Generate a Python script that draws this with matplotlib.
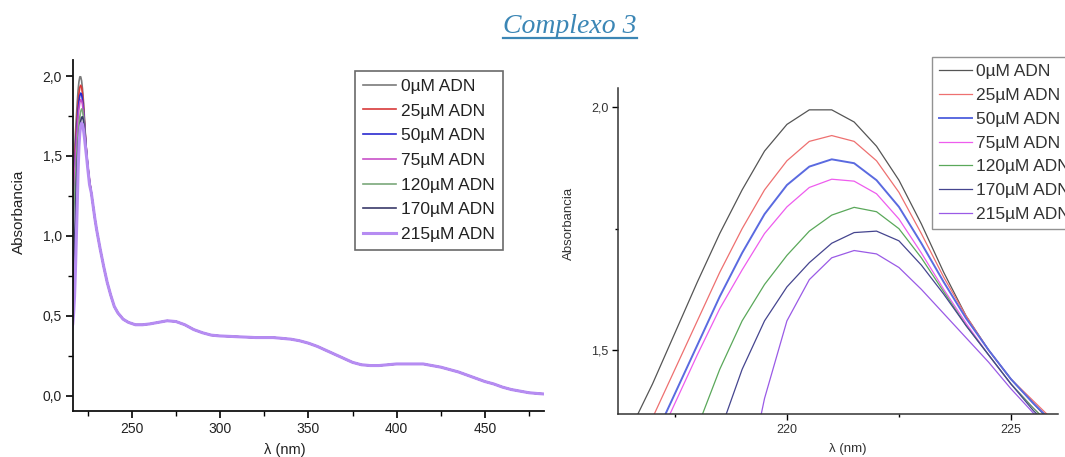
import matplotlib
matplotlib.use("Agg")
import matplotlib.pyplot as plt
from matplotlib.ticker import FuncFormatter, MultipleLocator
from matplotlib.lines import Line2D

plt.rcParams['font.family'] = ['Liberation Sans', 'DejaVu Sans']

labels = ['0\u00b5M ADN', '25\u00b5M ADN', '50\u00b5M ADN', '75\u00b5M ADN',
          '120\u00b5M ADN', '170\u00b5M ADN', '215\u00b5M ADN']

# wavelengths around the main band (nm)
peak_wl = [216.0, 216.5, 217.0, 217.5, 218.0, 218.5, 219.0, 219.5, 220.0, 220.5,
           221.0, 221.5, 222.0, 222.5, 223.0, 223.5, 224.0, 224.5, 225.0, 225.5, 226.0]

abs_0 = [1.22, 1.335, 1.43, 1.535, 1.64, 1.74, 1.83, 1.91, 1.965, 1.995,
         1.995, 1.97, 1.92, 1.85, 1.76, 1.66, 1.57, 1.50, 1.44, 1.39, 1.34]
abs_25 = [1.18, 1.27, 1.36, 1.46, 1.56, 1.66, 1.75, 1.83, 1.89, 1.93,
          1.942, 1.93, 1.89, 1.825, 1.74, 1.65, 1.57, 1.50, 1.44, 1.395, 1.35]
abs_50 = [1.10, 1.20, 1.31, 1.41, 1.51, 1.61, 1.70, 1.78, 1.84, 1.878,
          1.893, 1.885, 1.85, 1.795, 1.72, 1.64, 1.565, 1.50, 1.44, 1.39, 1.345]
abs_75 = [1.05, 1.17, 1.29, 1.39, 1.49, 1.585, 1.665, 1.74, 1.795, 1.835,
          1.852, 1.848, 1.822, 1.77, 1.70, 1.625, 1.555, 1.49, 1.43, 1.38, 1.335]
abs_120 = [0.95, 1.05, 1.15, 1.25, 1.34, 1.46, 1.56, 1.635, 1.695, 1.745,
           1.778, 1.794, 1.785, 1.75, 1.69, 1.62, 1.55, 1.49, 1.43, 1.38, 1.335]
abs_170 = [0.60, 0.68, 0.80, 0.95, 1.15, 1.33, 1.46, 1.56, 1.63, 1.68,
           1.72, 1.742, 1.745, 1.725, 1.675, 1.615, 1.55, 1.49, 1.43, 1.375, 1.33]
abs_215 = [0.42, 0.45, 0.52, 0.62, 0.78, 0.98, 1.18, 1.40, 1.56, 1.645,
           1.69, 1.705, 1.698, 1.67, 1.625, 1.575, 1.525, 1.475, 1.42, 1.37, 1.32]

# rest of the spectrum, the same for all concentrations
tail_wl = [227, 228, 229, 230, 232, 234, 236, 238, 240, 242, 245, 248, 252, 256, 260,
           265, 270, 275, 280, 285, 290, 295, 300, 310, 320, 330, 340, 345, 350, 355,
           360, 365, 370, 375, 380, 385, 390, 395, 400, 410, 415, 420, 425, 430, 435,
           440, 445, 450, 455, 460, 465, 470, 475, 480, 484]
tail_abs = [1.27, 1.19, 1.11, 1.04, 0.92, 0.81, 0.71, 0.63, 0.56, 0.52, 0.48, 0.46, 0.445,
            0.445, 0.45, 0.46, 0.47, 0.465, 0.445, 0.415, 0.395, 0.38, 0.375, 0.37, 0.365,
            0.365, 0.355, 0.345, 0.33, 0.31, 0.285, 0.26, 0.235, 0.21, 0.195, 0.19, 0.19,
            0.195, 0.20, 0.20, 0.20, 0.19, 0.18, 0.165, 0.15, 0.13, 0.11, 0.09, 0.075,
            0.055, 0.04, 0.03, 0.02, 0.015, 0.012]

series = [abs_0, abs_25, abs_50, abs_75, abs_120, abs_170, abs_215]

left_colors = ['#7a7a7a', '#d83a3a', '#2a2ad0', '#c850c8', '#7aa87a', '#3a3a6a', '#b68cf2']
left_widths = [1.2, 1.2, 1.2, 1.2, 1.2, 1.2, 2.2]
right_colors = ['#555555', '#ee7070', '#5a6ae0', '#ee5cee', '#5aa85a', '#45458f', '#9a5ae6']
right_widths = [0.9, 0.9, 1.4, 0.9, 0.9, 0.9, 0.9]

comma = FuncFormatter(lambda v, p: f"{v:.1f}".replace('.', ','))
txt = '#222222'

fig = plt.figure(figsize=(10.65, 4.57), dpi=100)

# ---- left panel: full spectrum
ax1 = fig.add_axes([0.0685, 0.1007, 0.4423, 0.768])
for vals, c, lw, lab in zip(series, left_colors, left_widths, labels):
    ax1.plot(peak_wl + tail_wl, vals + tail_abs, color=c, lw=lw, label=lab)
ax1.set_xlim(216.6, 483.5)
ax1.set_ylim(-0.094, 2.1)
ax1.xaxis.set_major_locator(MultipleLocator(50))
ax1.xaxis.set_minor_locator(MultipleLocator(25))
ax1.yaxis.set_major_locator(MultipleLocator(0.5))
ax1.yaxis.set_minor_locator(MultipleLocator(0.25))
ax1.yaxis.set_major_formatter(comma)
for s in ['top', 'right']:
    ax1.spines[s].set_visible(False)
for s in ['left', 'bottom']:
    ax1.spines[s].set_linewidth(1.3)
    ax1.spines[s].set_color('#111111')
ax1.tick_params(which='major', direction='out', length=5, width=1.2, labelsize=10,
                labelcolor=txt, pad=3)
ax1.tick_params(which='minor', direction='out', length=3.5, width=1.0)
ax1.set_ylabel('Absorbancia', fontsize=11, color=txt)
ax1.yaxis.set_label_coords(-0.1, 0.567)
ax1.set_xlabel('\u03bb (nm)', fontsize=10.5, color=txt)
ax1.xaxis.set_label_coords(0.45, -0.09)
leg1 = ax1.legend(loc='upper left', bbox_to_anchor=(0.599, 0.969), borderaxespad=0,
                  fontsize=12.5, frameon=True, fancybox=False, handlelength=1.9,
                  handletextpad=0.3, labelspacing=0.55, borderpad=0.45)
leg1.get_frame().set_edgecolor('#444444')
leg1.get_frame().set_linewidth(1.2)
for t in leg1.get_texts():
    t.set_color(txt)

# ---- right panel: zoom on the band maximum
ax2 = fig.add_axes([0.5803, 0.0941, 0.4131, 0.7133])
for vals, c, lw, lab in zip(series, right_colors, right_widths, labels):
    ax2.plot(peak_wl, vals, color=c, lw=lw, label=lab)
ax2.set_xlim(216.23, 226.05)
ax2.set_ylim(1.368, 2.04)
ax2.xaxis.set_major_locator(MultipleLocator(5))
ax2.xaxis.set_minor_locator(MultipleLocator(2.5))
ax2.yaxis.set_major_locator(MultipleLocator(0.5))
ax2.yaxis.set_minor_locator(MultipleLocator(0.25))
ax2.yaxis.set_major_formatter(comma)
for s in ['top', 'right']:
    ax2.spines[s].set_visible(False)
for s in ['left', 'bottom']:
    ax2.spines[s].set_linewidth(1.1)
    ax2.spines[s].set_color('#333333')
ax2.tick_params(which='major', direction='out', length=4, width=1.0, labelsize=9,
                labelcolor='#333333', pad=3)
ax2.tick_params(which='minor', direction='out', length=2, width=1.0)
ax2.set_ylabel('Absorbancia', fontsize=9.5, color='#333333')
ax2.yaxis.set_label_coords(-0.098, 0.586)
ax2.set_xlabel('\u03bb (nm)', fontsize=9.5, color='#333333')
ax2.xaxis.set_label_coords(0.523, -0.089)
# legend runs past the right edge of the figure, as in the source image
leg2 = ax2.legend(loc='upper left', bbox_to_anchor=(0.714, 1.095), borderaxespad=0,
                  fontsize=12.5, frameon=True, fancybox=False, handlelength=1.9,
                  handletextpad=0.2, labelspacing=0.5, borderpad=0.4)
leg2.get_frame().set_edgecolor('#777777')
leg2.get_frame().set_linewidth(1.0)
for t in leg2.get_texts():
    t.set_color('#333333')

# ---- title, underlined
title_color = '#3b86b5'
title = fig.text(0.535, 1 - 33 / 457, 'Complexo 3', ha='center', va='baseline',
                 fontsize=20, style='italic', color=title_color,
                 family=['Liberation Serif', 'DejaVu Serif'])
fig.canvas.draw()
bb = title.get_window_extent().transformed(fig.transFigure.inverted())
fig.add_artist(Line2D([bb.x0, bb.x1], [1 - 38 / 457] * 2, color=title_color, lw=1.6,
                      transform=fig.transFigure))

fig.savefig('out.png', dpi=100)
